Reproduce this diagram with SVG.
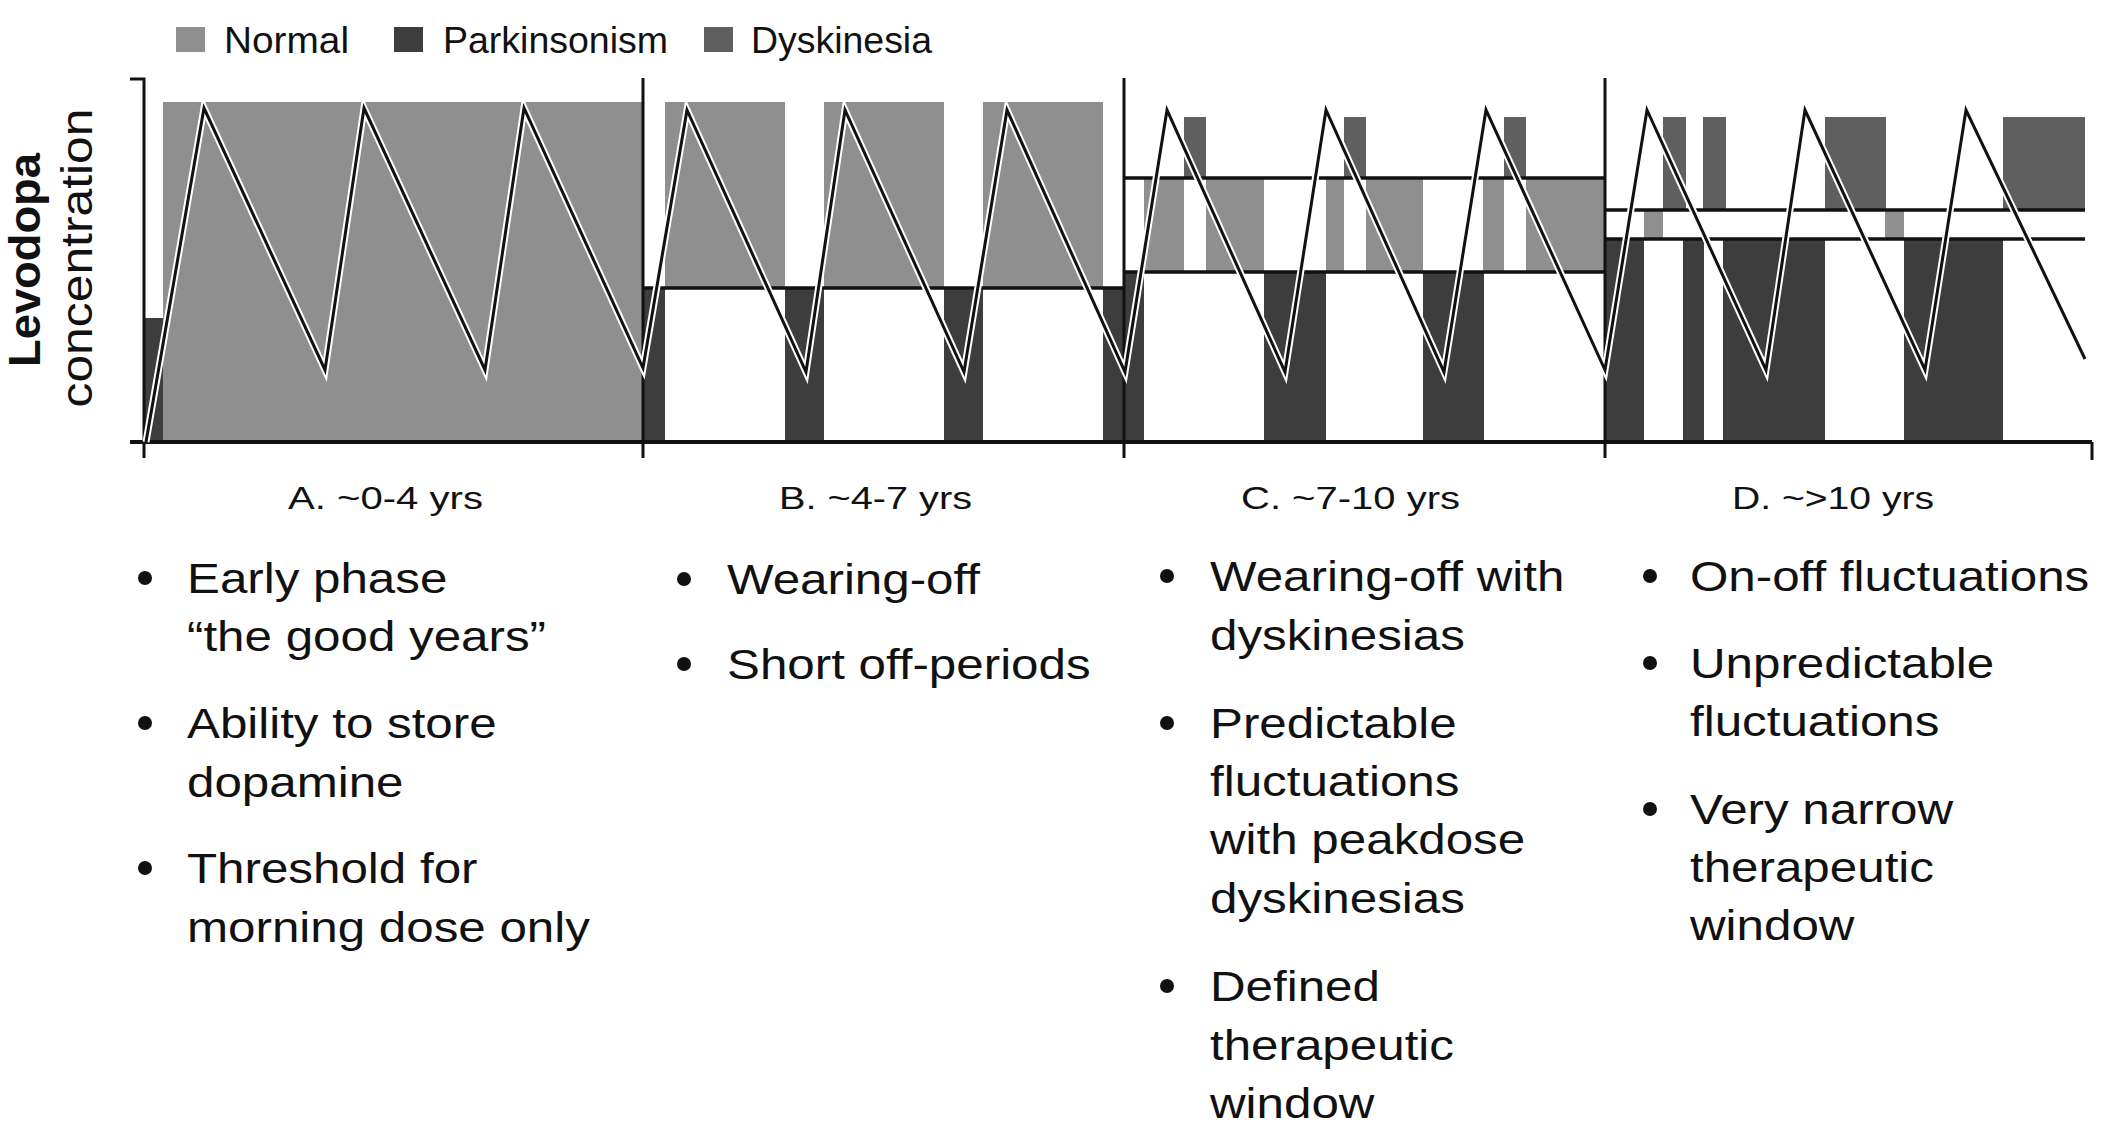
<svg xmlns="http://www.w3.org/2000/svg" width="2126" height="1142" viewBox="0 0 2126 1142">
<style>
.n{fill:#8f8f8f}
.p{fill:#3d3d3d}
.d{fill:#5f5f5f}
.ln{stroke:#111;stroke-width:3;fill:none}
.th{stroke:#111;stroke-width:3.5;fill:none}
text{font-family:"Liberation Sans",Arial,Helvetica,sans-serif;fill:#111}
.leg{font-size:36px}
.lab{font-size:32px}
.bul{font-size:43px}
.dot{fill:#111}
</style>
<rect width="2126" height="1142" fill="#fff"/>

<g id="legend">
  <rect class="n" x="176" y="27" width="29" height="25"/>
  <text class="leg" x="224" y="53" textLength="125" lengthAdjust="spacingAndGlyphs">Normal</text>
  <rect class="p" x="394" y="27" width="29" height="25"/>
  <text class="leg" x="443" y="53" textLength="225" lengthAdjust="spacingAndGlyphs">Parkinsonism</text>
  <rect class="d" x="704" y="27" width="29" height="25"/>
  <text class="leg" x="751" y="53" textLength="181" lengthAdjust="spacingAndGlyphs">Dyskinesia</text>
</g>

<g id="y-label">
  <text transform="translate(40,260) rotate(-90)" text-anchor="middle" font-size="44" font-weight="bold" textLength="214" lengthAdjust="spacingAndGlyphs">Levodopa</text>
  <text transform="translate(92,258) rotate(-90)" text-anchor="middle" font-size="44" textLength="299" lengthAdjust="spacingAndGlyphs">concentration</text>
</g>

<g id="panel-A">
  <rect class="n" x="163" y="102" width="480" height="338"/>
  <rect class="p" x="144" y="318" width="19" height="122"/>
</g>

<g id="panel-B">
  <rect class="n" x="665" y="102" width="120" height="186"/>
  <rect class="n" x="824" y="102" width="120" height="186"/>
  <rect class="n" x="983" y="102" width="120" height="186"/>
  <rect class="p" x="643" y="288" width="22" height="152"/>
  <rect class="p" x="785" y="288" width="39" height="152"/>
  <rect class="p" x="944" y="288" width="39" height="152"/>
  <rect class="p" x="1103" y="288" width="21" height="152"/>
  <line class="th" x1="643" y1="288" x2="1124" y2="288"/>
</g>

<g id="panel-C">
  <rect class="d" x="1184" y="117" width="22" height="61"/>
  <rect class="d" x="1344" y="117" width="22" height="61"/>
  <rect class="d" x="1504" y="117" width="22" height="61"/>
  <rect class="n" x="1144" y="178" width="40" height="94"/>
  <rect class="n" x="1206" y="178" width="58" height="94"/>
  <rect class="n" x="1326" y="178" width="18" height="94"/>
  <rect class="n" x="1366" y="178" width="57" height="94"/>
  <rect class="n" x="1483" y="178" width="21" height="94"/>
  <rect class="n" x="1526" y="178" width="79" height="94"/>
  <rect class="p" x="1124" y="272" width="20" height="168"/>
  <rect class="p" x="1264" y="272" width="62" height="168"/>
  <rect class="p" x="1423" y="272" width="61" height="168"/>
  <line class="th" x1="1124" y1="178" x2="1605" y2="178"/>
  <line class="th" x1="1124" y1="272" x2="1605" y2="272"/>
</g>

<g id="panel-D">
  <rect class="d" x="1663" y="117" width="23" height="93"/>
  <rect class="d" x="1703" y="117" width="23" height="93"/>
  <rect class="d" x="1825" y="117" width="61" height="93"/>
  <rect class="d" x="2003" y="117" width="82" height="93"/>
  <rect class="n" x="1644" y="210" width="19" height="29"/>
  <rect class="n" x="1885" y="210" width="19" height="29"/>
  <rect class="p" x="1605" y="239" width="39" height="201"/>
  <rect class="p" x="1683" y="239" width="21" height="201"/>
  <rect class="p" x="1723" y="239" width="102" height="201"/>
  <rect class="p" x="1904" y="239" width="99" height="201"/>
  <line class="th" x1="1605" y1="210" x2="2085" y2="210"/>
  <line class="th" x1="1605" y1="239" x2="2085" y2="239"/>
</g>

<g id="axes">
  <path class="ln" d="M130,79 H144 V458"/>
  <line x1="130" y1="442" x2="2092" y2="442" stroke="#111" stroke-width="4"/>
  <line class="ln" x1="2092" y1="442" x2="2092" y2="460"/>
  <line class="ln" x1="643" y1="78" x2="643" y2="458"/>
  <line class="ln" x1="1124" y1="78" x2="1124" y2="458"/>
  <line class="ln" x1="1605" y1="78" x2="1605" y2="458"/>
</g>

<g id="connectors">
  <path id="levodopa-curve-casing" d="M146,442 L204,108 L325,370 L364,108 L485,370 L524,108 L643,368 L687,110 L806,372 L845,110 L964,372 L1007,110 L1125,372 L1167,110 L1285,372 L1326,110 L1444,372 L1486,110 L1605,370 L1647,110 L1766,370 L1805,110 L1925,370 L1966,110 L2085,359" fill="none" stroke="#fff" stroke-width="7" stroke-linejoin="miter"/>
  <path id="levodopa-curve" d="M146,442 L204,108 L325,370 L364,108 L485,370 L524,108 L643,368 L687,110 L806,372 L845,110 L964,372 L1007,110 L1125,372 L1167,110 L1285,372 L1326,110 L1444,372 L1486,110 L1605,370 L1647,110 L1766,370 L1805,110 L1925,370 L1966,110 L2085,359" fill="none" stroke="#111" stroke-width="3" stroke-linejoin="miter"/>
</g>

<g id="labels">
  <text class="lab" x="288" y="509" textLength="195" lengthAdjust="spacingAndGlyphs">A. ~0-4 yrs</text>
  <text class="lab" x="779" y="509" textLength="193" lengthAdjust="spacingAndGlyphs">B. ~4-7 yrs</text>
  <text class="lab" x="1241" y="509" textLength="219" lengthAdjust="spacingAndGlyphs">C. ~7-10 yrs</text>
  <text class="lab" x="1732" y="509" textLength="202" lengthAdjust="spacingAndGlyphs">D. ~&gt;10 yrs</text>
</g>

<g id="notes-A">
  <circle class="dot" cx="145" cy="578" r="7"/>
  <circle class="dot" cx="145" cy="723" r="7"/>
  <circle class="dot" cx="145" cy="868" r="7"/>
  <g transform="translate(187,0) scale(1.147,1)">
    <text class="bul" x="0" y="593">Early phase</text>
    <text class="bul" x="0" y="651">“the good years”</text>
    <text class="bul" x="0" y="738">Ability to store</text>
    <text class="bul" x="0" y="797">dopamine</text>
    <text class="bul" x="0" y="883">Threshold for</text>
    <text class="bul" x="0" y="942">morning dose only</text>
  </g>
</g>

<g id="notes-B">
  <circle class="dot" cx="684" cy="579" r="7"/>
  <circle class="dot" cx="684" cy="664" r="7"/>
  <g transform="translate(727,0) scale(1.147,1)">
    <text class="bul" x="0" y="594">Wearing-off</text>
    <text class="bul" x="0" y="679">Short off-periods</text>
  </g>
</g>

<g id="notes-C">
  <circle class="dot" cx="1167" cy="576" r="7"/>
  <circle class="dot" cx="1167" cy="723" r="7"/>
  <circle class="dot" cx="1167" cy="986" r="7"/>
  <g transform="translate(1210,0) scale(1.147,1)">
    <text class="bul" x="0" y="591">Wearing-off with</text>
    <text class="bul" x="0" y="650">dyskinesias</text>
    <text class="bul" x="0" y="738">Predictable</text>
    <text class="bul" x="0" y="796">fluctuations</text>
    <text class="bul" x="0" y="854">with peakdose</text>
    <text class="bul" x="0" y="913">dyskinesias</text>
    <text class="bul" x="0" y="1001">Defined</text>
    <text class="bul" x="0" y="1060">therapeutic</text>
    <text class="bul" x="0" y="1118">window</text>
  </g>
</g>

<g id="notes-D">
  <circle class="dot" cx="1650" cy="576" r="7"/>
  <circle class="dot" cx="1650" cy="663" r="7"/>
  <circle class="dot" cx="1650" cy="809" r="7"/>
  <g transform="translate(1690,0) scale(1.147,1)">
    <text class="bul" x="0" y="591">On-off fluctuations</text>
    <text class="bul" x="0" y="678">Unpredictable</text>
    <text class="bul" x="0" y="736">fluctuations</text>
    <text class="bul" x="0" y="824">Very narrow</text>
    <text class="bul" x="0" y="882">therapeutic</text>
    <text class="bul" x="0" y="940">window</text>
  </g>
</g>
</svg>
